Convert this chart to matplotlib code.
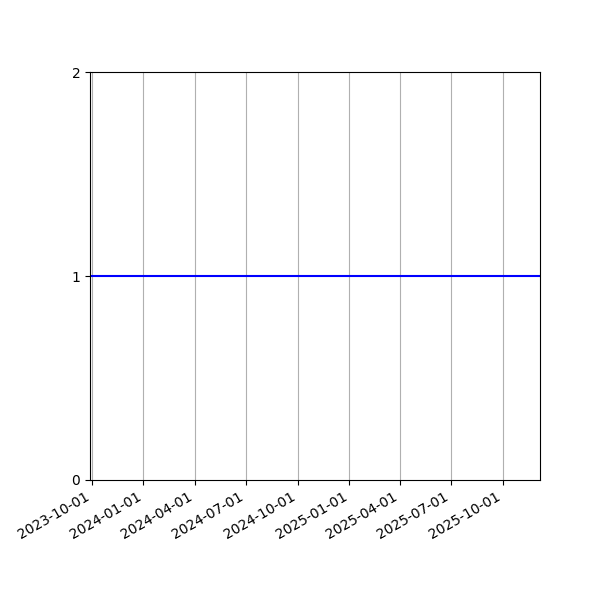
import matplotlib
matplotlib.use('Agg')
import matplotlib.pyplot as plt
import matplotlib.dates as mdates
import numpy as np
import datetime as dt

# data
dates = [dt.date(2023, 9, 28), dt.date(2024, 6, 1), dt.date(2025, 1, 1), dt.date(2025, 12, 6)]
values = [1, 1, 1, 1]
y_ticks = [0, 1, 2]

fig = plt.figure(figsize=(6, 6), dpi=100)
ax = fig.add_subplot(1, 1, 1)
ax.plot(dates, values, color='blue')

ax.set_xlim(dates[0], dates[-1])
ax.set_ylim(0, 2)
ax.set_yticks(y_ticks)
ax.xaxis.set_major_locator(mdates.MonthLocator(bymonth=[1, 4, 7, 10]))
ax.xaxis.set_major_formatter(mdates.DateFormatter('%Y-%m-%d'))
ax.grid(axis='x', color='#b0b0b0')

fig.autofmt_xdate()
fig.subplots_adjust(left=0.15, right=0.9, top=0.88, bottom=0.2)
fig.savefig('out.png')
